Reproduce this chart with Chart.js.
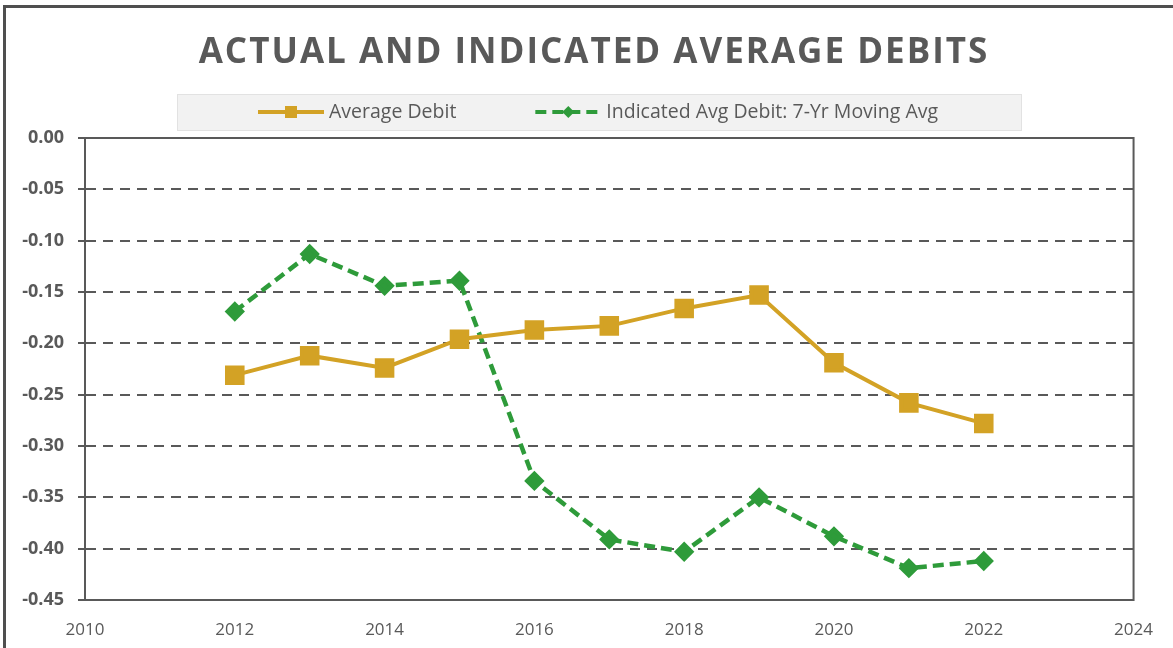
<!DOCTYPE html>
<html>
<head>
<meta charset="utf-8">
<script src="https://cdn.jsdelivr.net/npm/chart.js@4"></script>
<style>
  html, body { margin: 0; padding: 0; background: #fff; }
  #wrap { position: relative; width: 1173px; height: 648px; overflow: hidden; }
  #frame { position: absolute; left: 3px; top: 5px; right: -10px; bottom: -10px;
           border-top: 3px solid #4f4f4f; border-left: 3px solid #4f4f4f; pointer-events: none; }
  canvas { position: absolute; left: 0; top: 0; }
</style>
</head>
<body>
<div id="wrap">
  <canvas id="myChart" width="1173" height="648"></canvas>
  <div id="frame"></div>
</div>
<script>
const ctx = document.getElementById('myChart');

const chartTitle = 'ACTUAL AND INDICATED AVERAGE DEBITS';
const years = [2012, 2013, 2014, 2015, 2016, 2017, 2018, 2019, 2020, 2021, 2022];
const avgDebit = [-0.231, -0.212, -0.224, -0.196, -0.187, -0.183, -0.166, -0.153, -0.219, -0.258, -0.278];
const movingAvg = [-0.169, -0.113, -0.144, -0.139, -0.334, -0.391, -0.403, -0.350, -0.388, -0.419, -0.412];
const xTicks = [2010, 2012, 2014, 2016, 2018, 2020, 2022, 2024];
const yTicks = [0, -0.05, -0.10, -0.15, -0.20, -0.25, -0.30, -0.35, -0.40, -0.45];

const gold = '#D3A225';
const green = '#2E9B3A';
const grey = '#595959';

// box round the plot area, solid
const plotFrame = {
    id: 'plotFrame',
    beforeDatasetsDraw(chart) {
        const a = chart.chartArea;
        const c = chart.ctx;
        c.save();
        c.strokeStyle = grey;
        c.lineWidth = 2;
        c.setLineDash([]);
        c.strokeRect(a.left, a.top, a.right - a.left, a.bottom - a.top);
        c.restore();
    }
};

// title with letter spacing + legend box with line and marker samples
const header = {
    id: 'header',
    afterDraw(chart) {
        const c = chart.ctx;
        c.save();
        c.fillStyle = grey;
        c.font = 'bold 35px "Open Sans"';
        c.letterSpacing = '2px';
        c.textAlign = 'center';
        c.textBaseline = 'middle';
        c.fillText(chartTitle, 594, 53);
        c.letterSpacing = '0px';

        // legend
        c.fillStyle = '#f2f2f2';
        c.fillRect(177, 94, 845, 37);
        c.strokeStyle = '#e2e2e2';
        c.lineWidth = 1;
        c.strokeRect(177.5, 94.5, 844, 36);

        const cy = 112;
        let x = 258;
        c.font = '19.5px "Open Sans"';
        c.textAlign = 'left';
        chart.data.datasets.forEach((ds, i) => {
            const w = 66;
            c.strokeStyle = ds.borderColor;
            c.lineWidth = 4;
            c.setLineDash(ds.borderDash || []);
            c.beginPath();
            c.moveTo(x, cy);
            c.lineTo(x + w, cy);
            c.stroke();
            c.setLineDash([]);
            c.fillStyle = ds.pointBackgroundColor;
            const mx = x + w / 2;
            if (ds.pointStyle === 'rect') {
                c.fillRect(mx - 6, cy - 6, 12, 12);
            } else {
                c.beginPath();
                c.moveTo(mx, cy - 6);
                c.lineTo(mx + 6, cy);
                c.lineTo(mx, cy + 6);
                c.lineTo(mx - 6, cy);
                c.closePath();
                c.fill();
            }
            c.fillStyle = grey;
            c.fillText(ds.label, x + w + 5, cy);
            x += w + 5 + c.measureText(ds.label).width + 79;
        });
        c.restore();
    }
};

new Chart(ctx, {
    type: 'line',
    data: {
        datasets: [{
            label: 'Average Debit',
            data: years.map((y, i) => ({ x: y, y: avgDebit[i] })),
            borderColor: gold,
            backgroundColor: gold,
            pointBackgroundColor: gold,
            pointBorderColor: gold,
            borderWidth: 4,
            pointStyle: 'rect',
            pointRadius: 11,
            pointHoverRadius: 11,
            tension: 0
        }, {
            label: 'Indicated Avg Debit: 7-Yr Moving Avg',
            data: years.map((y, i) => ({ x: y, y: movingAvg[i] })),
            borderColor: green,
            backgroundColor: green,
            pointBackgroundColor: green,
            pointBorderColor: green,
            borderWidth: 4.5,
            borderDash: [11, 6],
            pointStyle: 'rectRot',
            pointRadius: 7,
            pointHoverRadius: 7,
            tension: 0
        }]
    },
    options: {
        responsive: false,
        animation: false,
        layout: { padding: { top: 138, right: 39, bottom: 0, left: 0 } },
        plugins: {
            legend: { display: false },
            title: { display: false },
            tooltip: { enabled: false }
        },
        scales: {
            x: {
                type: 'linear',
                min: 2010,
                max: 2024,
                afterBuildTicks: (s) => { s.ticks = xTicks.map(v => ({ value: v })); },
                afterFit: (s) => { s.height = 48; },
                grid: { display: false, drawTicks: false },
                border: { display: false },
                ticks: {
                    color: grey,
                    padding: 20,
                    maxRotation: 0,
                    font: { family: 'Open Sans', size: 17 },
                    callback: (v) => String(v)
                }
            },
            y: {
                min: -0.45,
                max: 0,
                afterBuildTicks: (s) => { s.ticks = yTicks.map(v => ({ value: v })); },
                afterFit: (s) => { s.width = 85; },
                grid: {
                    color: grey,
                    lineWidth: 2,
                    tickLength: 7,
                    tickColor: grey,
                    tickWidth: 2,
                    tickBorderDash: []
                },
                border: { display: true, color: grey, width: 2, dash: [10, 7] },
                ticks: {
                    color: grey,
                    padding: 14,
                    font: { family: 'Open Sans', size: 18, weight: 'bold' },
                    callback: (v) => v.toFixed(2)
                }
            }
        }
    },
    plugins: [plotFrame, header]
});
</script>
</body>
</html>
